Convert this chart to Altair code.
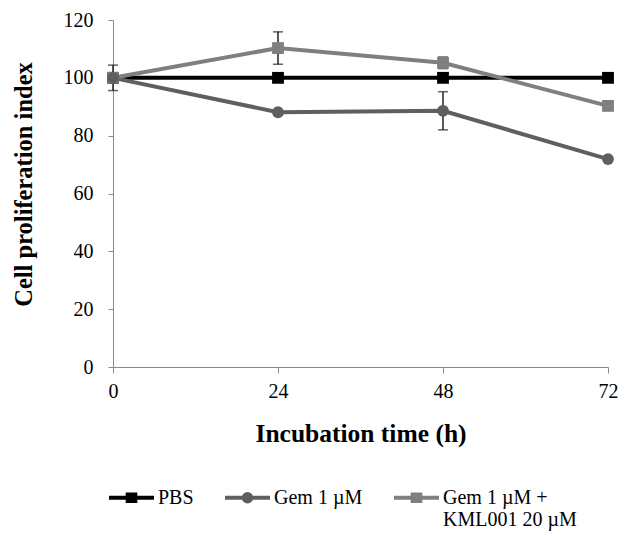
import altair as alt
import pandas as pd

times = [0, 24, 48, 72]
series_names = ["PBS", "Gem 1 µM", "Gem 1 µM + KML001 20 µM"]
pbs = [100, 100, 100, 100]
gem = [100, 88.1, 88.6, 71.9]
gem_kml = [100, 110.3, 105.2, 90.3]
pbs_err = [0, 0, 0, 0]
gem_err = [0, 0, 6.6, 0]
gem_kml_err = [4.4, 5.6, 2.0, 0]
colors = ["#000000", "#5f5f5f", "#7f7f7f"]
markers = ["square", "circle", "square"]

rows = []
for name, vals, errs, mk in zip(series_names, [pbs, gem, gem_kml], [pbs_err, gem_err, gem_kml_err], markers):
    for t, v, e in zip(times, vals, errs):
        rows.append({"time": t, "value": v, "series": name, "err": e,
                     "lo": v - e, "hi": v + e, "marker": mk})
df = pd.DataFrame(rows)

FONT = "Liberation Serif"

xenc = alt.X("time:Q", scale=alt.Scale(domain=[0, 72], nice=False),
             axis=alt.Axis(values=times, title="Incubation time (h)", grid=False,
                           labelFont=FONT, labelFontSize=20, labelColor="black",
                           labelPadding=8, tickSize=6, tickColor="#8a8a8a",
                           domainColor="#8a8a8a", labelFlush=False,
                           titleFont=FONT, titleFontSize=25.5, titleFontWeight="bold",
                           titleColor="black", titlePadding=20))
yenc = alt.Y("value:Q", scale=alt.Scale(domain=[0, 120], nice=False),
             axis=alt.Axis(values=[0, 20, 40, 60, 80, 100, 120], title="Cell proliferation index",
                           grid=False, labelFont=FONT, labelFontSize=20, labelColor="black",
                           labelPadding=15, tickSize=5, tickColor="#8a8a8a",
                           domainColor="#8a8a8a", titleFont=FONT, titleFontSize=24.5,
                           titleFontWeight="bold", titleColor="black", titlePadding=27,
                           titleY=164))

legend_paths = ["M-1,0H1M-0.17,-0.14H0.17V0.14H-0.17Z",
                "M-1,0H1M0.17,0A0.17,0.17 0 1,1 -0.17,0A0.17,0.17 0 1,1 0.17,0Z",
                "M-1,0H1M-0.17,-0.14H0.17V0.14H-0.17Z"]

label_expr = ("indexof(datum.label, '+ ') > 0 ? "
              "split(replace(datum.label, '+ ', '+|'), '|') : [datum.label, '']")

def mk_legend():
    return alt.Legend(orient="none", legendX=-6, legendY=453, direction="horizontal",
                      title=None, labelFont=FONT, labelFontSize=20, labelColor="black",
                      symbolSize=2025, symbolStrokeWidth=4, symbolOpacity=1,
                      labelOffset=2, columnPadding=23, labelLimit=400,
                      labelExpr=label_expr)

cscale = alt.Scale(domain=series_names, range=colors)

lines = alt.Chart(df).mark_line(strokeWidth=4).encode(
    x=xenc, y=yenc, color=alt.Color("series:N", scale=cscale, legend=None))

legend_layer = alt.Chart(df).mark_point(filled=False, size=0, strokeWidth=4).encode(
    x="time:Q", y="value:Q",
    color=alt.Color("series:N", scale=cscale, legend=mk_legend()),
    fill=alt.Fill("series:N", scale=cscale, legend=mk_legend()),
    shape=alt.Shape("series:N", scale=alt.Scale(domain=series_names, range=legend_paths), legend=mk_legend()))

squares = alt.Chart(df).transform_filter(alt.datum.marker == "square").mark_square(
    size=140, opacity=1).encode(
    x="time:Q", y="value:Q", color=alt.Color("series:N", scale=cscale, legend=None))
circles = alt.Chart(df).transform_filter(alt.datum.marker == "circle").mark_circle(
    size=140, opacity=1).encode(
    x="time:Q", y="value:Q", color=alt.Color("series:N", scale=cscale, legend=None))

errdf = df[df["err"] > 0]
rules = alt.Chart(errdf).mark_rule(color="#222222", strokeWidth=1.5).encode(
    x="time:Q", y="lo:Q", y2="hi:Q")
caps_lo = alt.Chart(errdf).mark_tick(color="#222222", thickness=1.5, size=10, orient="horizontal").encode(
    x="time:Q", y="lo:Q")
caps_hi = alt.Chart(errdf).mark_tick(color="#222222", thickness=1.5, size=10, orient="horizontal").encode(
    x="time:Q", y="hi:Q")

chart = alt.layer(lines, rules, caps_lo, caps_hi, squares, circles, legend_layer).resolve_legend(
    color="independent", fill="independent", shape="independent"
).properties(
    width=495, height=347,
    padding={"left": 105, "top": 12, "right": 10, "bottom": 169},
    autosize=alt.AutoSizeParams(type="none"),
    background="white",
).configure_view(stroke=None)

chart.save("out.html", embed_options={"renderer": "svg", "actions": False})
